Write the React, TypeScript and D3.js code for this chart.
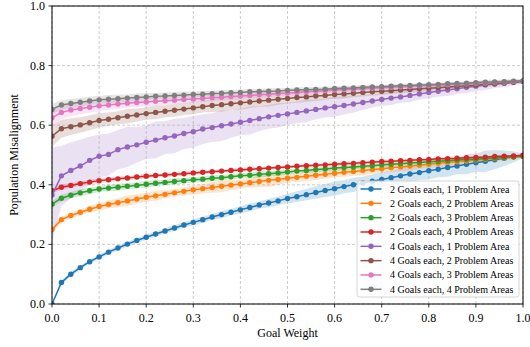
import React from "react";
import * as d3 from "d3";

const xs: number[] = d3.range(51).map((i) => i / 50);

const labels = [
  "2 Goals each, 1 Problem Area",
  "2 Goals each, 2 Problem Areas",
  "2 Goals each, 3 Problem Areas",
  "2 Goals each, 4 Problem Areas",
  "4 Goals each, 1 Problem Area",
  "4 Goals each, 2 Problem Areas",
  "4 Goals each, 3 Problem Areas",
  "4 Goals each, 4 Problem Areas",
];
const colors = ["#1f77b4", "#ff7f0e", "#2ca02c", "#d62728", "#9467bd", "#8c564b", "#e377c2", "#7f7f7f"];

const g2p1 = [0, .072, .100, .122, .142, .158, .174, .188, .201, .213, .224, .235, .245, .255, .265, .274, .283, .292, .300, .308, .316, .324, .332, .339, .346, .354, .360, .367, .374, .381, .387, .394, .400, .406, .412, .418, .424, .430, .436, .441, .447, .452, .458, .463, .469, .474, .479, .484, .489, .494, .498];
const g2p2 = [.250, .283, .297, .308, .318, .327, .334, .340, .346, .352, .358, .363, .368, .373, .378, .383, .387, .391, .395, .399, .403, .407, .411, .415, .418, .422, .425, .429, .432, .435, .439, .442, .445, .448, .451, .454, .457, .460, .463, .466, .469, .472, .475, .477, .480, .483, .486, .488, .491, .493, .496];
const g2p3 = [.335, .355, .365, .373, .380, .386, .389, .392, .395, .398, .402, .405, .408, .411, .414, .417, .419, .422, .424, .427, .430, .432, .435, .437, .440, .443, .446, .448, .451, .453, .456, .458, .460, .462, .464, .467, .469, .471, .473, .475, .477, .479, .481, .483, .485, .486, .488, .490, .492, .494, .496];
const g2p4 = [.380, .392, .398, .404, .409, .414, .417, .420, .423, .426, .429, .431, .433, .435, .437, .440, .442, .444, .446, .448, .450, .452, .454, .456, .458, .460, .462, .464, .466, .467, .469, .471, .472, .474, .476, .478, .479, .481, .482, .484, .485, .487, .488, .489, .491, .492, .493, .495, .496, .497, .499];
const g4p1 = [.366, .430, .448, .463, .482, .496, .502, .518, .527, .534, .543, .550, .558, .564, .572, .578, .587, .592, .598, .604, .610, .616, .622, .628, .633, .638, .643, .648, .653, .658, .662, .666, .671, .676, .681, .686, .691, .695, .700, .705, .710, .714, .718, .722, .727, .731, .735, .738, .741, .744, .747];
const g4p2 = [.563, .588, .595, .601, .608, .616, .620, .625, .630, .634, .639, .643, .647, .650, .654, .658, .662, .666, .669, .672, .675, .678, .681, .684, .687, .690, .693, .695, .698, .700, .703, .705, .707, .710, .712, .714, .716, .718, .720, .722, .724, .726, .728, .730, .732, .734, .737, .739, .742, .744, .747];
const g4p3 = [.625, .643, .651, .656, .660, .665, .668, .671, .674, .676, .678, .680, .682, .684, .686, .688, .690, .692, .694, .696, .698, .700, .702, .704, .706, .708, .710, .712, .714, .716, .718, .720, .721, .723, .724, .726, .727, .729, .730, .732, .733, .735, .736, .738, .739, .741, .742, .744, .745, .747, .748];
const g4p4 = [.653, .668, .673, .677, .681, .685, .687, .689, .691, .693, .695, .697, .698, .700, .701, .703, .704, .706, .707, .709, .710, .712, .713, .714, .715, .717, .718, .719, .720, .721, .723, .724, .725, .727, .728, .729, .731, .732, .733, .735, .736, .737, .739, .740, .741, .743, .744, .745, .746, .748, .749];

const s2p1 = [.002, .007, .007, .006, .007, .008, .007, .008, .008, .008, .009, .009, .008, .010, .009, .010, .011, .010, .012, .011, .012, .013, .012, .014, .015, .016, .018, .019, .021, .022, .024, .022, .024, .021, .023, .025, .022, .026, .028, .025, .029, .027, .031, .028, .034, .030, .036, .032, .026, .019, .008];
const s2p2 = [.008, .010, .009, .010, .011, .012, .013, .015, .018, .016, .015, .017, .014, .013, .014, .015, .016, .018, .020, .017, .015, .016, .019, .022, .018, .016, .015, .017, .016, .015, .014, .016, .015, .017, .014, .013, .015, .014, .016, .013, .012, .014, .013, .012, .011, .012, .010, .011, .009, .008, .006];
const s2p3 = [.010, .012, .011, .012, .011, .010, .011, .012, .010, .011, .012, .010, .009, .011, .010, .009, .010, .011, .009, .010, .009, .010, .011, .009, .010, .009, .008, .009, .010, .008, .009, .008, .009, .008, .007, .008, .009, .007, .008, .007, .008, .007, .006, .007, .006, .007, .006, .005, .006, .005, .004];
const s2p4 = [.008, .009, .008, .007, .008, .007, .008, .007, .006, .007, .008, .006, .007, .006, .007, .006, .007, .006, .005, .006, .007, .006, .005, .006, .005, .006, .005, .006, .005, .004, .005, .006, .005, .004, .005, .004, .005, .004, .005, .004, .004, .005, .004, .003, .004, .004, .003, .004, .003, .003, .003];
const s4p1 = [.160, .100, .095, .088, .080, .072, .070, .066, .068, .060, .056, .062, .055, .058, .052, .053, .050, .048, .051, .046, .044, .047, .042, .040, .041, .037, .036, .038, .033, .032, .034, .030, .028, .025, .022, .021, .023, .020, .022, .019, .020, .018, .020, .017, .019, .016, .018, .014, .013, .011, .008];
const s4p2 = [.035, .030, .028, .026, .025, .024, .023, .022, .024, .022, .021, .023, .020, .022, .020, .021, .019, .022, .024, .021, .023, .020, .019, .021, .018, .017, .018, .016, .017, .015, .014, .015, .013, .014, .012, .013, .011, .012, .010, .011, .010, .009, .010, .008, .009, .008, .007, .008, .006, .006, .005];
const s4p3 = [.030, .022, .020, .019, .018, .017, .016, .017, .015, .016, .014, .015, .014, .013, .014, .012, .013, .012, .011, .012, .011, .010, .011, .010, .009, .010, .009, .010, .009, .008, .009, .008, .009, .008, .007, .008, .007, .008, .007, .006, .007, .006, .007, .006, .006, .005, .006, .005, .005, .004, .004];
const s4p4 = [.018, .016, .015, .014, .015, .013, .014, .013, .012, .013, .012, .011, .012, .011, .012, .010, .011, .010, .011, .010, .009, .010, .009, .010, .009, .008, .009, .008, .009, .008, .007, .008, .007, .008, .007, .006, .007, .006, .007, .006, .006, .005, .006, .005, .006, .005, .005, .004, .005, .004, .004];

const means = [g2p1, g2p2, g2p3, g2p4, g4p1, g4p2, g4p3, g4p4];
const spreads = [s2p1, s2p2, s2p3, s2p4, s4p1, s4p2, s4p3, s4p4];

const xTicks = [0, 0.1, 0.2, 0.3, 0.4, 0.5, 0.6, 0.7, 0.8, 0.9, 1.0];
const yTicks = [0, 0.2, 0.4, 0.6, 0.8, 1.0];

const W = 530, H = 347;
const L = 52, R = 523, T = 6, B = 304;
const FONT = "Liberation Serif, Times New Roman, DejaVu Serif, serif";

export default function App() {
  const x = d3.scaleLinear().domain([0, 1]).range([L, R]);
  const y = d3.scaleLinear().domain([0, 1]).range([B, T]);

  const line = d3.line<number>().x((_, i) => x(xs[i])).y((d) => y(d));

  const areas = means.map((m, k) => {
    const s = spreads[k];
    const a = d3
      .area<number>()
      .x((_, i) => x(xs[i]))
      .y0((d, i) => y(d - s[i]))
      .y1((d, i) => y(d + s[i]));
    return a(m) || "";
  });

  const legX = 357, legY = 181, legW = 162, legH = 116;
  const legStep = 14.33;
  const tStyle = { fontFamily: FONT };

  return (
    <svg width={W} height={H} style={{ position: "absolute", left: 0, top: 0, background: "#fff", fontFamily: FONT }}>
      <defs>
        <clipPath id="plotclip">
          <rect x={L} y={T} width={R - L} height={B - T} />
        </clipPath>
      </defs>
      <rect x={0} y={0} width={W} height={H} fill="#fff" />
      <g clipPath="url(#plotclip)">
        {areas.map((d, k) => (
          <path key={"a" + k} d={d} fill={colors[k]} fillOpacity={0.2} stroke="none" />
        ))}
      </g>
      <g stroke="#b0b0b0" strokeWidth={0.8} strokeDasharray="3,2" opacity={0.8}>
        {xTicks.map((t) => (
          <line key={"gx" + t} x1={x(t)} x2={x(t)} y1={T} y2={B} />
        ))}
        {yTicks.map((t) => (
          <line key={"gy" + t} x1={L} x2={R} y1={y(t)} y2={y(t)} />
        ))}
      </g>
      <g clipPath="url(#plotclip)">
        {means.map((m, k) => (
          <g key={"l" + k}>
            <path d={line(m) || ""} fill="none" stroke={colors[k]} strokeWidth={1.5} />
            {m.map((v, i) => (
              <circle key={i} cx={x(xs[i])} cy={y(v)} r={2.7} fill={colors[k]} />
            ))}
          </g>
        ))}
      </g>
      <rect x={L} y={T} width={R - L} height={B - T} fill="none" stroke="#000" strokeWidth={1} />
      <g stroke="#000" strokeWidth={0.8}>
        {xTicks.map((t) => (
          <line key={"tx" + t} x1={x(t)} x2={x(t)} y1={B} y2={B + 3.5} />
        ))}
        {yTicks.map((t) => (
          <line key={"ty" + t} x1={L - 3.5} x2={L} y1={y(t)} y2={y(t)} />
        ))}
      </g>
      <g fill="#000">
        {xTicks.map((t) => (
          <text key={"lx" + t} x={x(t)} y={321.5} textAnchor="middle" fontSize={12} style={tStyle}>
            {t.toFixed(1)}
          </text>
        ))}
        {yTicks.map((t) => (
          <text key={"ly" + t} x={L - 7} y={y(t) + 4} textAnchor="end" fontSize={12} style={tStyle}>
            {t.toFixed(1)}
          </text>
        ))}
        <text x={(L + R) / 2} y={337} textAnchor="middle" fontSize={12} style={tStyle}>Goal Weight</text>
        <text transform={`translate(18, ${(T + B) / 2}) rotate(-90)`} textAnchor="middle" fontSize={12} style={tStyle}>
          Population Misalignment
        </text>
      </g>
      <g>
        <rect x={legX} y={legY} width={legW} height={legH} rx={2.5} fill="#fff" fillOpacity={0.8} stroke="#cccccc" strokeWidth={0.8} />
        {labels.map((lab, k) => {
          const yy = 189 + k * legStep;
          return (
            <g key={"leg" + k}>
              <line x1={360.5} x2={381.5} y1={yy} y2={yy} stroke={colors[k]} strokeWidth={1.5} />
              <circle cx={371} cy={yy} r={2.7} fill={colors[k]} />
              <text x={390} y={yy + 3.5} fontSize={10} fill="#000" style={tStyle}>
                {lab}
              </text>
            </g>
          );
        })}
      </g>
    </svg>
  );
}
